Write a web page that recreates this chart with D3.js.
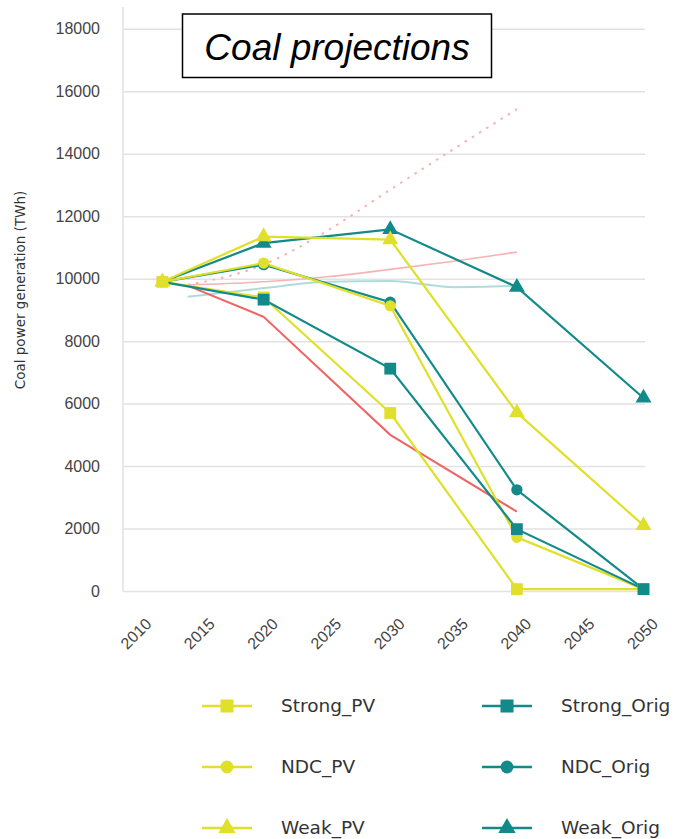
<!DOCTYPE html>
<html>
<head>
<meta charset="utf-8">
<script src="https://cdn.jsdelivr.net/npm/d3@7"></script>
<style>
  body { margin: 0; background: #fff; }
  svg { display: block; font-family: 'DejaVu Sans', sans-serif; }
  .grade line { stroke: #e2e2e2; stroke-width: 1.5; }
  .grade path { stroke: #e2e2e2; stroke-width: 1.5; }
  .eixo text { fill: #444; font-size: 16px; }
  .legenda text { fill: #333; font-size: 18.5px; }
</style>
</head>
<body>
<svg id="grafico"></svg>
<script>
// anos das projecoes e valores (TWh)
const years = [2012, 2020, 2030, 2040, 2050];
const strongPV   = [9900, 9400, 5700, 60, 60];
const ndcPV      = [9900, 10500, 9130, 1720, 60];
const weakPV     = [9900, 11350, 11250, 5710, 2100];
const strongOrig = [9900, 9330, 7120, 1980, 60];
const ndcOrig    = [9900, 10450, 9250, 3240, 60];
const weakOrig   = [9900, 11140, 11580, 9730, 6180];

// linhas de referencia sem legenda
const redYears = [2014, 2020, 2030, 2040];
const redLine  = [9780, 8780, 5000, 2540];
const refYears = [2014, 2020, 2025, 2030, 2035, 2040];
const pinkLine   = [9800, 9900, 10060, 10300, 10560, 10850];
const dottedLine = [9800, 10450, 11530, 12850, 14150, 15430];
const tealLight  = [9420, 9700, 9900, 9930, 9730, 9770];

const xTicks = [2010, 2015, 2020, 2025, 2030, 2035, 2040, 2045, 2050];
const yTicks = [0, 2000, 4000, 6000, 8000, 10000, 12000, 14000, 16000, 18000];

const largura = 683, altura = 839;
const yellow = '#e0e02a', teal = '#138a8a';

const svg = d3.select('#grafico').attr('width', largura).attr('height', altura);

const x = d3.scaleLinear().domain([2010, 2050]).range([137, 643.5]);
const y = d3.scaleLinear().domain([0, 18700]).range([591, 7]);
const esquerda = 123, direita = 645;

// grade e eixo Y
const grade = svg.append('g')
    .attr('class', 'grade')
    .attr('transform', `translate(${esquerda}, 0)`)
    .call(d3.axisRight(y).tickValues(yTicks).tickSize(direita - esquerda).tickFormat(''));
grade.select('.domain').attr('d', `M0,${y(18700)}V${y(0)}`).attr('fill', 'none');

const eixoY = svg.append('g')
    .attr('class', 'eixo')
    .attr('transform', 'translate(100, 0)')
    .call(d3.axisLeft(y).tickValues(yTicks).tickSize(0).tickPadding(0).tickFormat(d3.format('d')));
eixoY.select('.domain').remove();
eixoY.selectAll('text').attr('font-family', null).attr('font-size', null);

// eixo X com rotulos inclinados
const eixoX = svg.append('g')
    .attr('class', 'eixo')
    .attr('transform', `translate(0, ${y(0)})`)
    .call(d3.axisBottom(x).tickValues(xTicks).tickSize(0).tickFormat(d3.format('d')));
eixoX.select('.domain').remove();
eixoX.selectAll('text')
    .attr('font-family', null).attr('font-size', null)
    .attr('x', 0).attr('y', 0).attr('dy', '0.35em')
    .attr('text-anchor', 'end')
    .attr('transform', 'translate(11, 30) rotate(-45)');

// titulo do eixo Y
svg.append('text')
    .attr('transform', 'translate(25, 290) rotate(-90)')
    .attr('text-anchor', 'middle')
    .attr('font-size', '13.5px')
    .attr('fill', '#333')
    .text('Coal power generation (TWh)');

// linhas de referencia
const linhaRef = (anos, curva) => d3.line()
    .x((d, i) => x(anos[i]))
    .y(d => y(d))
    .curve(curva);

const refs = svg.append('g').attr('fill', 'none');
refs.append('path').datum(pinkLine).attr('d', linhaRef(refYears, d3.curveMonotoneX))
    .attr('stroke', '#f6b4b4').attr('stroke-width', 1.6);
refs.append('path').datum(dottedLine).attr('d', linhaRef(refYears, d3.curveMonotoneX))
    .attr('stroke', '#f7b0b0').attr('stroke-width', 2).attr('stroke-dasharray', '2.5,6');
refs.append('path').datum(tealLight).attr('d', linhaRef(refYears, d3.curveMonotoneX))
    .attr('stroke', '#9ed2d2').attr('stroke-width', 2).attr('opacity', 0.8);
refs.append('path').datum(redLine).attr('d', linhaRef(redYears, d3.curveLinear))
    .attr('stroke', '#f06464').attr('stroke-width', 2);

// series principais (ordem de desenho igual a do original)
const series = [
  { name: 'NDC_Orig',    values: ndcOrig,    color: teal,   symbol: d3.symbolCircle,   orig: true },
  { name: 'Weak_Orig',   values: weakOrig,   color: teal,   symbol: d3.symbolTriangle, orig: true },
  { name: 'NDC_PV',      values: ndcPV,      color: yellow, symbol: d3.symbolCircle,   orig: false },
  { name: 'Weak_PV',     values: weakPV,     color: yellow, symbol: d3.symbolTriangle, orig: false },
  { name: 'Strong_PV',   values: strongPV,   color: yellow, symbol: d3.symbolSquare,   orig: false },
  { name: 'Strong_Orig', values: strongOrig, color: teal,   symbol: d3.symbolSquare,   orig: true }
];
const tamanho = s => s === d3.symbolSquare ? 140 : (s === d3.symbolCircle ? 100 : 110);

const linha = d3.line().x((d, i) => x(years[i])).y(d => y(d));

svg.append('g').selectAll('path').data(series).join('path')
    .attr('fill', 'none')
    .attr('stroke', d => d.color)
    .attr('stroke-width', 2.2)
    .attr('d', d => linha(d.values));

// marcadores: as series Orig partem do mesmo ponto de 2012, desenhado uma vez so
const pontos = series.flatMap(s => s.values.map((v, i) => ({ s, ano: years[i], v }))
    .filter(p => !(p.s.orig && p.ano === years[0])));
svg.append('g').selectAll('path').data(pontos).join('path')
    .attr('transform', d => `translate(${x(d.ano)}, ${y(d.v)})`)
    .attr('fill', d => d.s.color)
    .attr('d', d => d3.symbol(d.s.symbol, tamanho(d.s.symbol))());

// caixa do titulo
svg.append('rect')
    .attr('x', 182.5).attr('y', 14).attr('width', 309).attr('height', 63.5)
    .attr('fill', '#fff').attr('stroke', '#000').attr('stroke-width', 1.5);
svg.append('text')
    .attr('x', 337).attr('y', 60)
    .attr('text-anchor', 'middle')
    .attr('font-family', 'Liberation Sans, Arial, sans-serif')
    .attr('font-style', 'italic')
    .attr('font-size', '37px')
    .attr('fill', '#000')
    .text('Coal projections');

// legenda em duas colunas
const legendaItens = [
  { name: 'Strong_PV',   color: yellow, symbol: d3.symbolSquare,   col: 0, row: 0 },
  { name: 'NDC_PV',      color: yellow, symbol: d3.symbolCircle,   col: 0, row: 1 },
  { name: 'Weak_PV',     color: yellow, symbol: d3.symbolTriangle, col: 0, row: 2 },
  { name: 'Strong_Orig', color: teal,   symbol: d3.symbolSquare,   col: 1, row: 0 },
  { name: 'NDC_Orig',    color: teal,   symbol: d3.symbolCircle,   col: 1, row: 1 },
  { name: 'Weak_Orig',   color: teal,   symbol: d3.symbolTriangle, col: 1, row: 2 }
];
const legenda = svg.append('g').attr('class', 'legenda');
const item = legenda.selectAll('g').data(legendaItens).join('g')
    .attr('transform', d => `translate(${202 + d.col * 280}, ${706 + d.row * 61})`);
item.append('line')
    .attr('x1', 0).attr('x2', 50)
    .attr('stroke', d => d.color).attr('stroke-width', 2.6);
item.append('path')
    .attr('transform', 'translate(25, 0)')
    .attr('fill', d => d.color)
    .attr('d', d => d3.symbol(d.symbol, d.symbol === d3.symbolSquare ? 170 : 130)());
item.append('text')
    .attr('x', 79).attr('dy', '0.32em')
    .text(d => d.name);
</script>
</body>
</html>
